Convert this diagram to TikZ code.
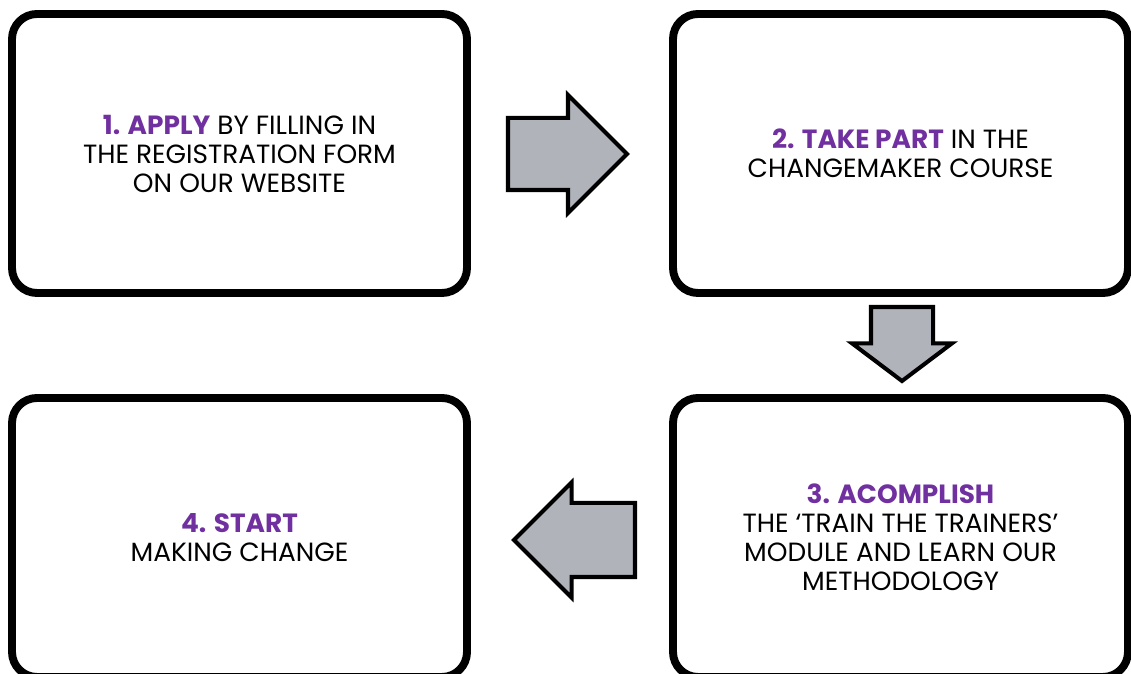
\documentclass[tikz,border=0pt]{standalone}
\usepackage{fontspec}
\setmainfont{Poppins}
\usetikzlibrary{shapes.arrows}
\definecolor{stepviolet}{HTML}{7030A0}
\definecolor{arrowgrey}{HTML}{B0B3BA}

\begin{document}
\begin{tikzpicture}[
  card/.style={draw,line width=4.5pt,rounded corners=0.5cm,minimum width=9.1cm,
    minimum height=5.58cm,align=center,font=\fontsize{15}{16.5}\selectfont},
  blockarrow/.style={single arrow,draw,line width=2.3pt,fill=arrowgrey,anchor=tail,
    inner sep=0pt,outer sep=0pt,single arrow head indent=0pt}]
\useasboundingbox (0,0) rectangle (22.62,13.48);

% the four steps
\node[card] at (4.79,10.41) (apply) {\textcolor{stepviolet}{\bfseries 1. APPLY} BY FILLING IN\\THE REGISTRATION FORM\\ON OUR WEBSITE};
\node[card] at (18.01,10.41) (course) {\textcolor{stepviolet}{\bfseries 2. TAKE PART} IN THE\\CHANGEMAKER COURSE};
\node[card] at (18.01,2.73) (module) {\textcolor{stepviolet}{\bfseries 3. ACOMPLISH}\\THE ‘TRAIN THE TRAINERS’\\MODULE AND LEARN OUR\\METHODOLOGY};
\node[card] at (4.79,2.73) (start) {\textcolor{stepviolet}{\bfseries 4. START}\\MAKING CHANGE};

% arrows between them, placed by their tails
\node[blockarrow,minimum height=2.38cm,inner ysep=0.68cm,single arrow head extend=0.46cm,
  single arrow tip angle=90] at (10.16,10.4) (toCourse) {};
\node[blockarrow,minimum height=1.48cm,inner xsep=0.58cm,single arrow head extend=0.38cm,
  single arrow tip angle=106,shape border rotate=270] at (18.04,7.34) (toModule) {};
\node[blockarrow,minimum height=2.42cm,inner ysep=0.7cm,single arrow head extend=0.41cm,
  single arrow tip angle=90,shape border rotate=180] at (12.7,2.68) (toStart) {};
\end{tikzpicture}
\end{document}
